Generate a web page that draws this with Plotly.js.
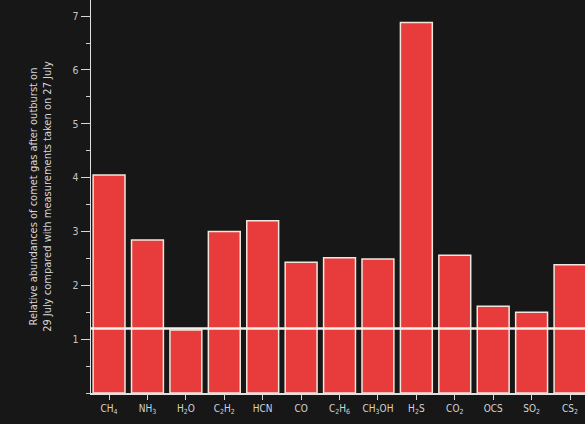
<!DOCTYPE html>
<html>
<head>
<meta charset="utf-8">
<script src="https://cdn.plot.ly/plotly-3.0.1.min.js"></script>
<style>html,body{margin:0;padding:0;background:#171717;}#chart{width:585px;height:424px;}</style>
</head>
<body>
<div id="chart"></div>
<script>
const species = ['CH<sub>4</sub>','NH<sub>3</sub>','H<sub>2</sub>O','C<sub>2</sub>H<sub>2</sub>','HCN','CO','C<sub>2</sub>H<sub>6</sub>','CH<sub>3</sub>OH','H<sub>2</sub>S','CO<sub>2</sub>','OCS','SO<sub>2</sub>','CS<sub>2</sub>'];
const abundance = [4.05, 2.84, 1.17, 3.0, 3.2, 2.43, 2.51, 2.49, 6.88, 2.56, 1.61, 1.5, 2.38];
const baseline = 1.2;
const yTicks = [1,2,3,4,5,6,7];
const yTitle = 'Relative abundances of comet gas after outburst on<br>29 July compared with measurements taken on 27 July';

const idx = species.map((_, i) => i);
const data = [{
  type: 'bar',
  x: idx,
  y: abundance,
  width: 0.83,
  marker: {color: '#e83c3c', line: {color: '#f0e6dc', width: 1.5}},
  hoverinfo: 'y'
}, {
  type: 'scatter',
  mode: 'lines',
  x: [-0.5, species.length],
  y: [baseline, baseline],
  line: {color: '#f4f1ea', width: 2.5},
  hoverinfo: 'skip'
}];
const layout = {
  width: 585, height: 424,
  margin: {l: 91, r: 0, t: 0, b: 31},
  paper_bgcolor: '#171717',
  plot_bgcolor: '#171717',
  showlegend: false,
  font: {family: 'DejaVu Sans Condensed, DejaVu Sans, sans-serif', color: '#cfcfcf', size: 10},
  xaxis: {
    range: [-0.47, 12.39],
    tickvals: idx,
    ticktext: species,
    ticks: 'outside', ticklen: 5, tickcolor: '#d8d8d8',
    showline: true, linecolor: '#e0e0e0', linewidth: 1.5,
    showgrid: false, zeroline: false,
    tickfont: {size: 10, color: '#d4d4d4'}
  },
  yaxis: {
    range: [0, 7.3],
    tickvals: yTicks,
    ticks: 'outside', ticklen: 9, tickcolor: '#d8d8d8',
    minor: {dtick: 0.5, ticks: 'outside', ticklen: 4, tickcolor: '#cfcfcf'},
    showline: true, linecolor: '#e0e0e0', linewidth: 1.5,
    showgrid: false, zeroline: false,
    tickfont: {size: 10.5, color: '#c4c4c4'},
    title: {text: yTitle, font: {size: 11, color: '#d6d6d6'}, standoff: 18}
  }
};
Plotly.newPlot('chart', data, layout, {displayModeBar: false, staticPlot: true});
</script>
</body>
</html>
